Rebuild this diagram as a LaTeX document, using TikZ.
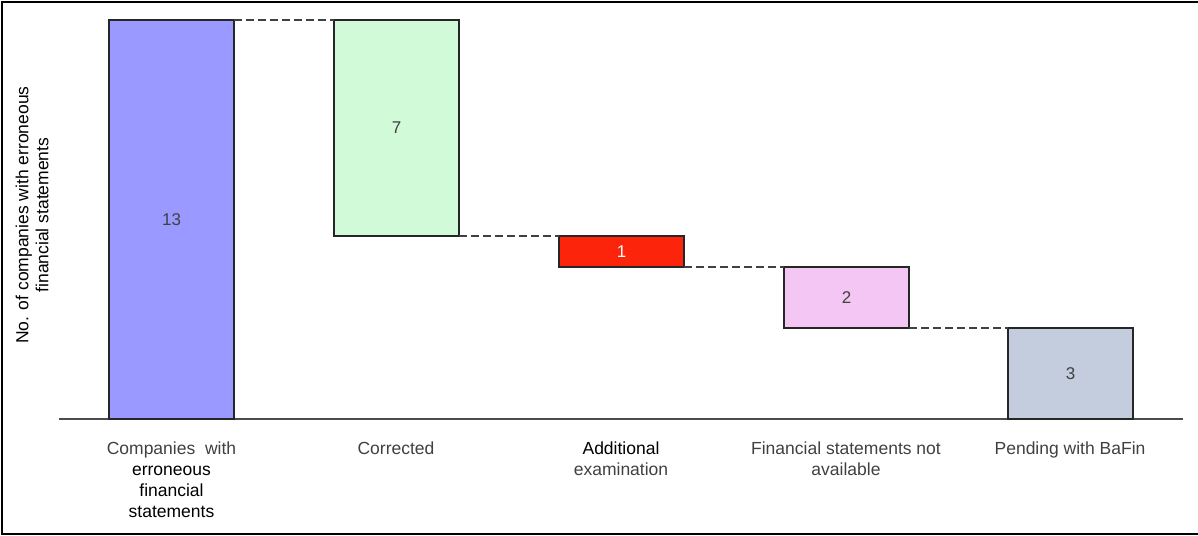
\documentclass[tikz,border=0pt]{standalone}
\usepackage{fontspec}
\setmainfont{Liberation Sans}
\definecolor{cblue}{RGB}{153,153,255}
\definecolor{cgreen}{RGB}{208,250,216}
\definecolor{cred}{RGB}{252,36,10}
\definecolor{cpink}{RGB}{243,198,243}
\definecolor{cgrey}{RGB}{195,205,222}
\definecolor{txtgrey}{RGB}{64,64,64}
\begin{document}
\begin{tikzpicture}[x=1pt,y=-1pt,
  bar/.style={draw=black!85, line width=1.1pt, inner sep=0pt, outer sep=0pt, anchor=north west,
    minimum width=125pt, font=\fontsize{17}{19}\selectfont, text=txtgrey},
  conn/.style={draw=black!75, line width=1.1pt, dash pattern=on 8pt off 4pt},
  cat/.style={anchor=north, align=center, font=\fontsize{17.5}{21}\selectfont, text=txtgrey, inner sep=0pt}]
\useasboundingbox (0,0) rectangle (1198,535);
% frame
\draw[line width=2pt] (1200,2) -- (2,2) -- (2,533.5) -- (1200,533.5);
% axis
\coordinate (axL) at (59,419);
\coordinate (axR) at (1183,419);
\draw[line width=1.4pt, draw=black!70] (axL) -- (axR);
% bars
\node[bar, fill=cblue, minimum height=399pt] (b1) at (109,20) {13};
\node[bar, fill=cgreen, minimum height=216pt] (b2) at (334,20) {7};
\node[bar, fill=cred, minimum height=31pt, text=white] (b3) at (559,236) {1};
\node[bar, fill=cpink, minimum height=61pt] (b4) at (784,267) {2};
\node[bar, fill=cgrey, minimum height=91pt] (b5) at (1008,328) {3};
% connectors
\draw[conn] (b1.north east) -- (b2.north west);
\draw[conn] (b2.south east) -- (b3.north west);
\draw[conn] (b3.south east) -- (b4.north west);
\draw[conn] (b4.south east) -- (b5.north west);
% category labels
\node[cat] (l1) at (171.5,442) {Companies~ with\\\textcolor{black}{erroneous}\\\textcolor{black}{financial}\\\textcolor{black}{statements}};
\node[cat] (l2) at (396,442) {Corrected};
\node[cat] (l3) at (621,442) {\textcolor{black}{Additional}\\examination};
\node[cat] (l4) at (846,442) {Financial statements not\\available};
\node[cat] (l5) at (1070,442) {Pending with BaFin};
% y label
\node[rotate=90, align=center, font=\fontsize{17.5}{20}\selectfont, inner sep=0pt] (yl) at (32,215)
  {No. of companies with erroneous\\financial statements};
\end{tikzpicture}
\end{document}
